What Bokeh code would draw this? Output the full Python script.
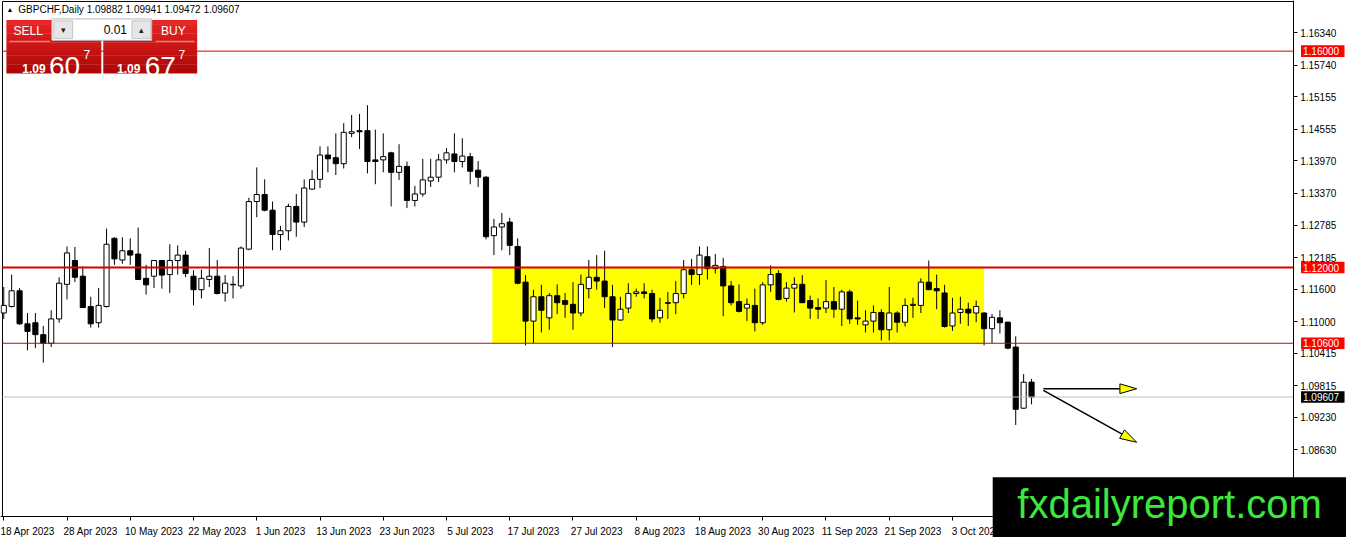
from bokeh.plotting import figure
from bokeh.models import LinearAxis, FixedTicker, PrintfTickFormatter, Range1d
from bokeh.core.properties import value
from bokeh.embed import file_html
from bokeh.resources import INLINE
import math

# GBPCHF daily bars, bar 0 = 18 Apr 2023 ... bar 130 = 17 Oct 2023
opens = [1.1116, 1.1128, 1.1157, 1.1096, 1.1098, 1.1076, 1.1060, 1.1105, 1.1169, 1.1213,
         1.1184, 1.1128, 1.1098, 1.1128, 1.1254, 1.1214, 1.1231, 1.1225, 1.1180, 1.1184,
         1.1213, 1.1187, 1.1213, 1.1223, 1.1184, 1.1159, 1.1178, 1.1184, 1.1153, 1.1169,
         1.1166, 1.1234, 1.1322, 1.1335, 1.1306, 1.1261, 1.1268, 1.1313, 1.1284, 1.1345,
         1.1363, 1.1408, 1.1403, 1.1392, 1.1448, 1.1453, 1.1453, 1.1399, 1.1399, 1.1412,
         1.1376, 1.1387, 1.1324, 1.1336, 1.1360, 1.1367, 1.1399, 1.1410, 1.1396, 1.1405,
         1.1380, 1.1367, 1.1259, 1.1275, 1.1284, 1.1239, 1.1173, 1.1101, 1.1146, 1.1107,
         1.1148, 1.1139, 1.1132, 1.1116, 1.1161, 1.1182, 1.1175, 1.1146, 1.1103, 1.1125,
         1.1152, 1.1155, 1.1152, 1.1107, 1.1135, 1.1135, 1.1152, 1.1196, 1.1187, 1.1220,
         1.1198, 1.1202, 1.1166, 1.1137, 1.1125, 1.1130, 1.1098, 1.1168, 1.1189, 1.1143,
         1.1162, 1.1169, 1.1139, 1.1126, 1.1125, 1.1137, 1.1123, 1.1155, 1.1107, 1.1094,
         1.1101, 1.1117, 1.1085, 1.1116, 1.1099, 1.1130, 1.1130, 1.1173, 1.1161, 1.1153,
         1.1092, 1.1117, 1.1123, 1.1116, 1.1116, 1.1087, 1.1107, 1.1099, 1.1053, 1.0940,
         1.09882]
highs = [1.1164, 1.1187, 1.1162, 1.1116, 1.1116, 1.1092, 1.1121, 1.1182, 1.1239, 1.1238,
         1.1202, 1.1146, 1.1162, 1.1272, 1.1256, 1.1256, 1.1254, 1.1274, 1.1205, 1.1214,
         1.1214, 1.1243, 1.1241, 1.1231, 1.1195, 1.1196, 1.1236, 1.1214, 1.1186, 1.1184,
         1.1239, 1.1329, 1.1385, 1.1363, 1.1322, 1.1277, 1.1318, 1.1336, 1.1363, 1.1380,
         1.1424, 1.1424, 1.1448, 1.1467, 1.1482, 1.1484, 1.1500, 1.1455, 1.1448, 1.1414,
         1.1428, 1.1396, 1.1351, 1.1401, 1.1401, 1.1410, 1.1421, 1.1448, 1.1439, 1.1412,
         1.1397, 1.1369, 1.1290, 1.1301, 1.1292, 1.1254, 1.1186, 1.1159, 1.1168, 1.1153,
         1.1169, 1.1153, 1.1173, 1.1187, 1.1214, 1.1223, 1.1231, 1.1168, 1.1146, 1.1171,
         1.1161, 1.1171, 1.1159, 1.1144, 1.1155, 1.1175, 1.1214, 1.1216, 1.1239, 1.1239,
         1.1225, 1.1218, 1.1175, 1.1169, 1.1143, 1.1161, 1.1173, 1.1204, 1.1195, 1.1173,
         1.1182, 1.1186, 1.1148, 1.1143, 1.1177, 1.1164, 1.1159, 1.1159, 1.1139, 1.1121,
         1.1130, 1.1123, 1.1164, 1.1119, 1.1143, 1.1144, 1.1180, 1.1213, 1.1187, 1.1168,
         1.1144, 1.1146, 1.1135, 1.1139, 1.1117, 1.1114, 1.1121, 1.1100, 1.1073, 1.1003,
         1.09941]
lows = [1.1105, 1.1126, 1.1094, 1.1047, 1.1051, 1.1024, 1.1053, 1.1098, 1.1141, 1.1173,
        1.1126, 1.1089, 1.1089, 1.1126, 1.1205, 1.1207, 1.1205, 1.1177, 1.1150, 1.1162,
        1.1161, 1.1153, 1.1187, 1.1182, 1.1130, 1.1143, 1.1164, 1.1150, 1.1137, 1.1143,
        1.1161, 1.1232, 1.1293, 1.1304, 1.1232, 1.1232, 1.1250, 1.1257, 1.1275, 1.1344,
        1.1347, 1.1376, 1.1371, 1.1383, 1.1441, 1.1419, 1.1374, 1.1354, 1.1376, 1.1313,
        1.1362, 1.1310, 1.1313, 1.1331, 1.1349, 1.1358, 1.1392, 1.1376, 1.1385, 1.1354,
        1.1349, 1.1252, 1.1223, 1.1232, 1.1223, 1.1169, 1.1056, 1.1060, 1.1080, 1.1085,
        1.1114, 1.1107, 1.1085, 1.1110, 1.1143, 1.1159, 1.1125, 1.1053, 1.1102, 1.1116,
        1.1146, 1.1143, 1.1099, 1.1098, 1.1105, 1.1114, 1.1143, 1.1168, 1.1168, 1.1178,
        1.1189, 1.1110, 1.1130, 1.1117, 1.1101, 1.1082, 1.1094, 1.1155, 1.1139, 1.1137,
        1.1117, 1.1135, 1.1105, 1.1105, 1.1116, 1.1107, 1.1092, 1.1096, 1.1094, 1.1080,
        1.1080, 1.1065, 1.1065, 1.1080, 1.1091, 1.1107, 1.1116, 1.1159, 1.1123, 1.1089,
        1.1083, 1.1096, 1.1092, 1.1099, 1.1056, 1.1060, 1.1078, 1.1049, 1.0909, 1.0939,
        1.09472]
closes = [1.1130, 1.1157, 1.1096, 1.1082, 1.1076, 1.1060, 1.1105, 1.1171, 1.1227, 1.1182,
          1.1126, 1.1096, 1.1130, 1.1243, 1.1216, 1.1231, 1.1223, 1.1178, 1.1168, 1.1213,
          1.1186, 1.1213, 1.1223, 1.1189, 1.1159, 1.1180, 1.1184, 1.1152, 1.1171, 1.1168,
          1.1236, 1.1322, 1.1335, 1.1306, 1.1261, 1.1268, 1.1313, 1.1284, 1.1347, 1.1363,
          1.1408, 1.1401, 1.1392, 1.1450, 1.1451, 1.1451, 1.1396, 1.1396, 1.1405, 1.1376,
          1.1387, 1.1324, 1.1336, 1.1362, 1.1367, 1.1399, 1.1412, 1.1396, 1.1406, 1.1378,
          1.1367, 1.1257, 1.1275, 1.1281, 1.1241, 1.1171, 1.1101, 1.1146, 1.1121, 1.1148,
          1.1135, 1.1132, 1.1116, 1.1169, 1.1182, 1.1175, 1.1146, 1.1103, 1.1123, 1.1152,
          1.1155, 1.1152, 1.1105, 1.1121, 1.1134, 1.1152, 1.1196, 1.1187, 1.1223, 1.1198,
          1.1204, 1.1166, 1.1135, 1.1119, 1.1132, 1.1098, 1.1168, 1.1187, 1.1141, 1.1162,
          1.1169, 1.1135, 1.1125, 1.1123, 1.1137, 1.1123, 1.1155, 1.1105, 1.1105, 1.1101,
          1.1117, 1.1085, 1.1116, 1.1099, 1.1130, 1.1132, 1.1173, 1.1159, 1.1157, 1.1091,
          1.1116, 1.1123, 1.1116, 1.1128, 1.1087, 1.1108, 1.1098, 1.1051, 1.0938, 1.0988,
          1.09607]

date_bars = [0, 8, 16, 24, 32, 40, 48, 56, 64, 72, 80, 88, 96, 104, 112, 120]
date_labels = ["18 Apr 2023", "28 Apr 2023", "10 May 2023", "22 May 2023", "1 Jun 2023",
               "13 Jun 2023", "23 Jun 2023", "5 Jul 2023", "17 Jul 2023", "27 Jul 2023",
               "8 Aug 2023", "18 Aug 2023", "30 Aug 2023", "11 Sep 2023", "21 Sep 2023",
               "3 Oct 2023"]

price_ticks = [1.16340, 1.15740, 1.15155, 1.14555, 1.13970, 1.13370, 1.12785,
               1.12185, 1.11600, 1.11000, 1.10415, 1.09815, 1.09230, 1.08630]

levels = [1.16000, 1.12000, 1.10600]
level_widths = [1, 2, 1]
bid = 1.09607

# yellow range box (bars / prices)
box_left, box_right = 61.8, 124.0
box_top, box_bottom = 1.12000, 1.10600

# the two arrows drawn after the last bar
arrow_x0 = [131.5, 131.5]
arrow_y0 = [1.0976, 1.0973]
arrow_x1 = [143.3, 143.3]
arrow_y1 = [1.0976, 1.0877]

header = "GBPCHF,Daily  1.09882 1.09941 1.09472 1.09607"
lot = "0.01"
sell_big, sell_pip = "60", "7"
buy_big, buy_pip = "67", "7"
site = "fxdailyreport.com"

W, H = 1346, 537
font = "Liberation Sans"


# layout helpers: screenshot pixel -> data (8 px per bar, 5571 px per 1.0 of price)
def X(px):
    return (px - 3.3) / 8


def Y(py):
    return 1.12 - (py - 275) / 5571


x_lo, x_hi = X(0), X(1362)
y_lo, y_hi = Y(553), Y(0)

p = figure(width=W, height=H, x_range=Range1d(x_lo, x_hi), y_range=Range1d(y_lo, y_hi),
           output_backend="svg", toolbar_location=None,
           x_axis_location=None, y_axis_location=None,
           min_border_left=0, min_border_top=0, min_border_right=0, min_border_bottom=0)
p.grid.grid_line_color = None
p.outline_line_color = None
p.background_fill_color = "white"
p.border_fill_color = "white"

# price axis on the right edge of the chart area
yax = LinearAxis(fixed_location=X(1308), ticker=FixedTicker(ticks=price_ticks),
                 formatter=PrintfTickFormatter(format="%.5f"))
yax.major_tick_out = 4
yax.major_tick_in = 0
yax.minor_tick_line_color = None
yax.major_label_standoff = 3
yax.major_label_text_font = font
yax.major_label_text_font_size = "10px"
yax.major_label_text_color = "black"
yax.axis_line_color = "black"
p.add_layout(yax, "right")

# time axis; MT4 writes the dates to the right of the bar, so shift the labels a little
xax = LinearAxis(fixed_location=Y(531), ticker=FixedTicker(ticks=[b + 3 for b in date_bars]))
xax.major_label_overrides = {b + 3: t for b, t in zip(date_bars, date_labels)}
xax.major_tick_line_color = None
xax.minor_tick_line_color = None
xax.major_label_standoff = 4
xax.major_label_text_font = font
xax.major_label_text_font_size = "10px"
xax.major_label_text_color = "black"
xax.axis_line_color = "black"
p.add_layout(xax, "below")

# small tick marks at the dated bars
xtick = LinearAxis(fixed_location=Y(531), ticker=FixedTicker(ticks=date_bars))
xtick.major_label_text_alpha = 0
xtick.major_label_text_font_size = "1px"
xtick.major_tick_out = 4
xtick.major_tick_in = 0
xtick.minor_tick_line_color = None
xtick.axis_line_color = None
p.add_layout(xtick, "below")

# chart border left / top
p.segment(x0=[X(2), X(2)], y0=[Y(1), Y(1)], x1=[X(2), X(1308)], y1=[Y(531), Y(1)],
          line_color="black", line_width=1)

# range box
p.quad(left=[box_left], right=[box_right], top=[box_top], bottom=[box_bottom],
       fill_color="#ffff00", line_color=None)

# candles
xs = list(range(len(opens)))
body_top = [max(o, c) for o, c in zip(opens, closes)]
body_bot = [min(o, c) for o, c in zip(opens, closes)]
fills = ["white" if c >= o else "black" for o, c in zip(opens, closes)]
p.segment(x0=xs, y0=highs, x1=xs, y1=lows, line_color="black", line_width=1)
p.vbar(x=xs, width=0.65, top=body_top, bottom=body_bot, fill_color=fills,
       line_color="black", line_width=1)

# horizontal levels and bid line
p.segment(x0=[X(2)] * len(levels), y0=levels, x1=[X(1308)] * len(levels), y1=levels,
          line_color="#dd0000", line_width=level_widths)
p.segment(x0=[X(2)], y0=[bid], x1=[X(1308)], y1=[bid], line_color="#c0c0c0", line_width=1)

# price tags on the axis
tag_h = 6 / 5571
tags = levels + [bid]
tag_colors = ["#ff0000"] * len(levels) + ["black"]
p.quad(left=[X(1316)] * len(tags), right=[X(1360)] * len(tags),
       top=[t + tag_h for t in tags], bottom=[t - tag_h for t in tags],
       fill_color=tag_colors, line_color=None, level="overlay")
p.text(x=[X(1318)] * len(tags), y=tags, text=["%.5f" % t for t in tags], text_font=value(font),
       text_font_size="10px", text_color="white", text_baseline="middle", level="overlay")

# arrows with yellow heads
kx = 8.0
ky = 5571.0
head_xs, head_ys = [], []
for x0, y0, x1, y1 in zip(arrow_x0, arrow_y0, arrow_x1, arrow_y1):
    dx, dy = (x1 - x0) * kx, (y1 - y0) * ky
    n = math.hypot(dx, dy)
    ux, uy = dx / n, dy / n
    bx, by = x1 * kx - 17 * ux, y1 * ky - 17 * uy
    pts = [(x1 * kx, y1 * ky), (bx - 5 * uy, by + 5 * ux), (bx + 5 * uy, by - 5 * ux)]
    head_xs.append([q[0] / kx for q in pts])
    head_ys.append([q[1] / ky for q in pts])
    p.line([x0, bx / kx], [y0, by / ky], line_color="black", line_width=1.6)
p.patches(head_xs, head_ys, fill_color="#ffff00", line_color="black", line_width=1)

# header line
p.text(x=[X(6)], y=[Y(9)], text=["\u25b2"], text_font=value(font), text_font_size="7px",
       text_color="black", text_baseline="middle")
p.text(x=[X(18)], y=[Y(9)], text=[header], text_font=value(font), text_font_size="10px",
       text_color="black", text_baseline="middle")

# one click trading panel
steps = 12
for k in range(steps):
    t = k / (steps - 1)
    col = "#%02x%02x%02x" % (int(232 - 58 * t), int(36 - 28 * t), int(36 - 28 * t))
    y_a = 20 + 55 * k / steps
    y_b = 20 + 55 * (k + 1) / steps
    p.quad(left=[X(6), X(104)], right=[X(102), X(199)], top=[Y(y_a)] * 2, bottom=[Y(y_b + 0.3)] * 2,
           fill_color=col, line_color=None)
p.quad(left=[X(52)], right=[X(153)], top=[Y(19)], bottom=[Y(41)], fill_color="white",
       line_color="#b8b8b8")
p.quad(left=[X(54), X(133)], right=[X(73), X(152)], top=[Y(21)] * 2, bottom=[Y(39)] * 2,
       fill_color="#e6e6e6", line_color="#c4c4c4")
p.text(x=[X(63.5), X(142.5)], y=[Y(30)] * 2, text=["\u25be", "\u25b4"], text_font=value(font),
       text_font_size="9px", text_color="#202020", text_align="center", text_baseline="middle")
p.text(x=[X(128)], y=[Y(30)], text=[lot], text_font=value(font), text_font_size="12px",
       text_color="black", text_align="right", text_baseline="middle")
p.segment(x0=[X(9), X(157)], y0=[Y(42)] * 2, x1=[X(50), X(196)], y1=[Y(42)] * 2,
          line_color="#f2a0a0", line_width=1)
p.text(x=[X(28), X(175)], y=[Y(31)] * 2, text=["SELL", "BUY"], text_font=value(font),
       text_font_size="12px", text_color="white", text_align="center", text_baseline="middle")
p.text(x=[X(22), X(118)], y=[Y(70)] * 2, text=["1.09", "1.09"], text_font=value(font),
       text_font_size="12px", text_font_style="bold", text_color="white", text_baseline="alphabetic")
p.text(x=[X(49), X(146)], y=[Y(68)] * 2, text=[sell_big, buy_big], text_font=value(font),
       text_font_size="28px", text_color="white", text_baseline="alphabetic")
p.text(x=[X(84), X(180)], y=[Y(56)] * 2, text=[sell_pip, buy_pip], text_font=value(font),
       text_font_size="12px", text_color="white", text_baseline="alphabetic")

# watermark
p.quad(left=[X(1004)], right=[X(1362)], top=[Y(491)], bottom=[Y(553)],
       fill_color="black", line_color=None, level="overlay")
p.text(x=[X(1183)], y=[Y(518)], text=[site], text_font=value(font), text_font_size="40px",
       text_color="#3de83d", text_align="center", text_baseline="middle", level="overlay")

open("out.html", "w").write(file_html(p, INLINE))
